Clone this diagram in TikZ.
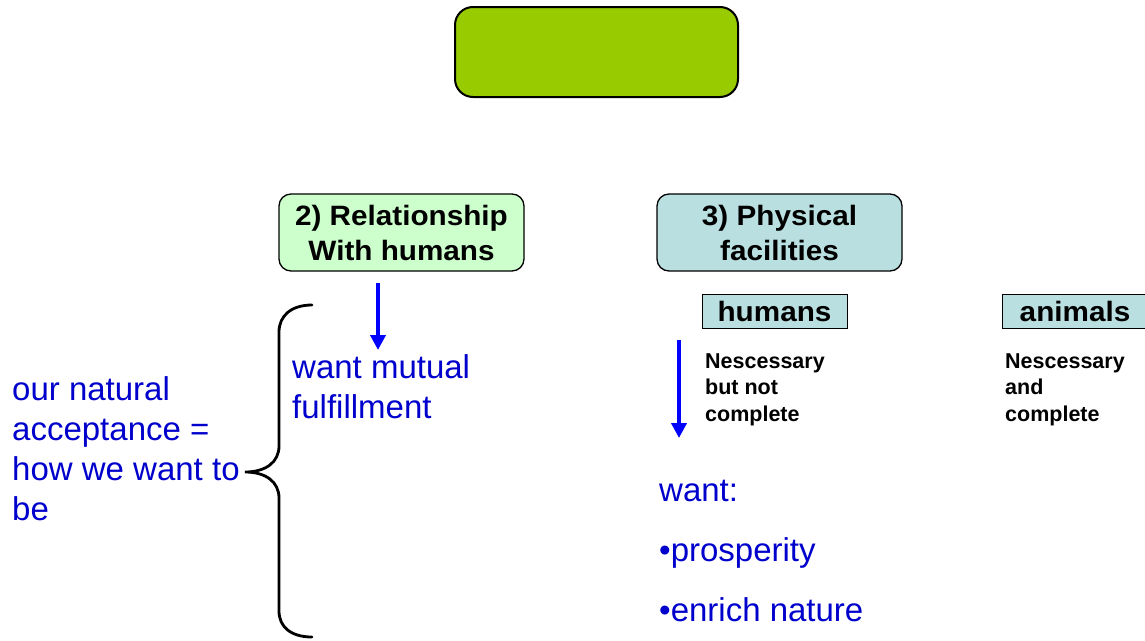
\documentclass[tikz,border=0pt]{standalone}
\usepackage{fontspec}
\setmainfont{Liberation Sans}
\newfontfamily\boxfont[FakeStretch=1.06]{Liberation Sans}
\usetikzlibrary{arrows.meta}
\definecolor{titlegreen}{RGB}{153,204,0}
\definecolor{mintfill}{RGB}{204,255,204}
\definecolor{tealfill}{RGB}{185,223,225}
\definecolor{noteblue}{RGB}{0,0,204}
\definecolor{arrowblue}{RGB}{0,0,255}

\begin{document}
\begin{tikzpicture}[x=1pt,y=-1pt,
  panel/.style={draw=black, line width=1.3pt, rounded corners=12pt, align=center,
    inner sep=0pt, minimum width=245pt, minimum height=77pt,
    font=\boxfont\fontsize{28}{35}\selectfont\bfseries},
  tag/.style={draw=black, line width=1pt, fill=tealfill, inner sep=0pt,
    minimum width=145pt, minimum height=34pt, text height=20pt, text depth=0pt,
    font=\boxfont\fontsize{28}{34}\selectfont\bfseries},
  note/.style={align=left, inner sep=0pt, anchor=base west,
    font=\fontsize{21.5}{26.5}\selectfont\bfseries},
  bluetext/.style={align=left, inner sep=0pt, anchor=base west, text=noteblue,
    font=\fontsize{33}{40}\selectfont},
  down/.style={draw=arrowblue, line width=4.5pt, -{Triangle[width=15pt,length=15pt]}},
  brace/.style={draw=black, line width=2.8pt, line cap=round}
]
\useasboundingbox (0,0) rectangle (1145,640);

% title box (empty)
\node[draw=black, line width=2pt, fill=titlegreen, rounded corners=18pt,
  minimum width=283pt, minimum height=90pt] (title) at (596.5,52) {};

% category panels
\node[panel, fill=mintfill] (rel) at (401.5,232.5) {2) Relationship\\With humans};
\node[panel, fill=tealfill] (phys) at (779.5,232.5) {3) Physical\\facilities};

% sub-category tags
\node[tag] (hum) at (774.5,311) {humans};
\node[tag] (ani) at (1075,311) {animals};

% notes under the tags (anchored at the baseline of their last line)
\node[note] (hnote) at (705,421) {Nescessary\\but not\\complete};
\node[note] (anote) at (1005,421) {Nescessary\\and\\complete};

% blue statements (anchored at the baseline of their last line)
\node[bluetext] (mutual) at (292,418) {want mutual\\fulfillment};
\node[bluetext] (accept) at (12,520) {our natural\\acceptance =\\how we want to\\be};
\node[bluetext, font=\fontsize{33}{60}\selectfont] (wants) at (659,621)
  {want:\\•prosperity\\•enrich nature};

% arrows
\coordinate (relfoot) at (378,283);
\coordinate (mutualtop) at (378,350);
\coordinate (humfoot) at (679,340);
\coordinate (wantstop) at (679,438);
\draw[down] (relfoot) -- (mutualtop);
\draw[down] (humfoot) -- (wantstop);

% curly brace
\coordinate (bracetip) at (245,472);
\draw[brace] (312,305) .. controls (291,305) and (279,316) .. (279,332)
  -- (279,446) .. controls (279,462) and (266,472) .. (bracetip)
  .. controls (266,472) and (279,482) .. (279,498)
  -- (279,611) .. controls (279,627) and (291,637) .. (312,637);
\end{tikzpicture}
\end{document}
